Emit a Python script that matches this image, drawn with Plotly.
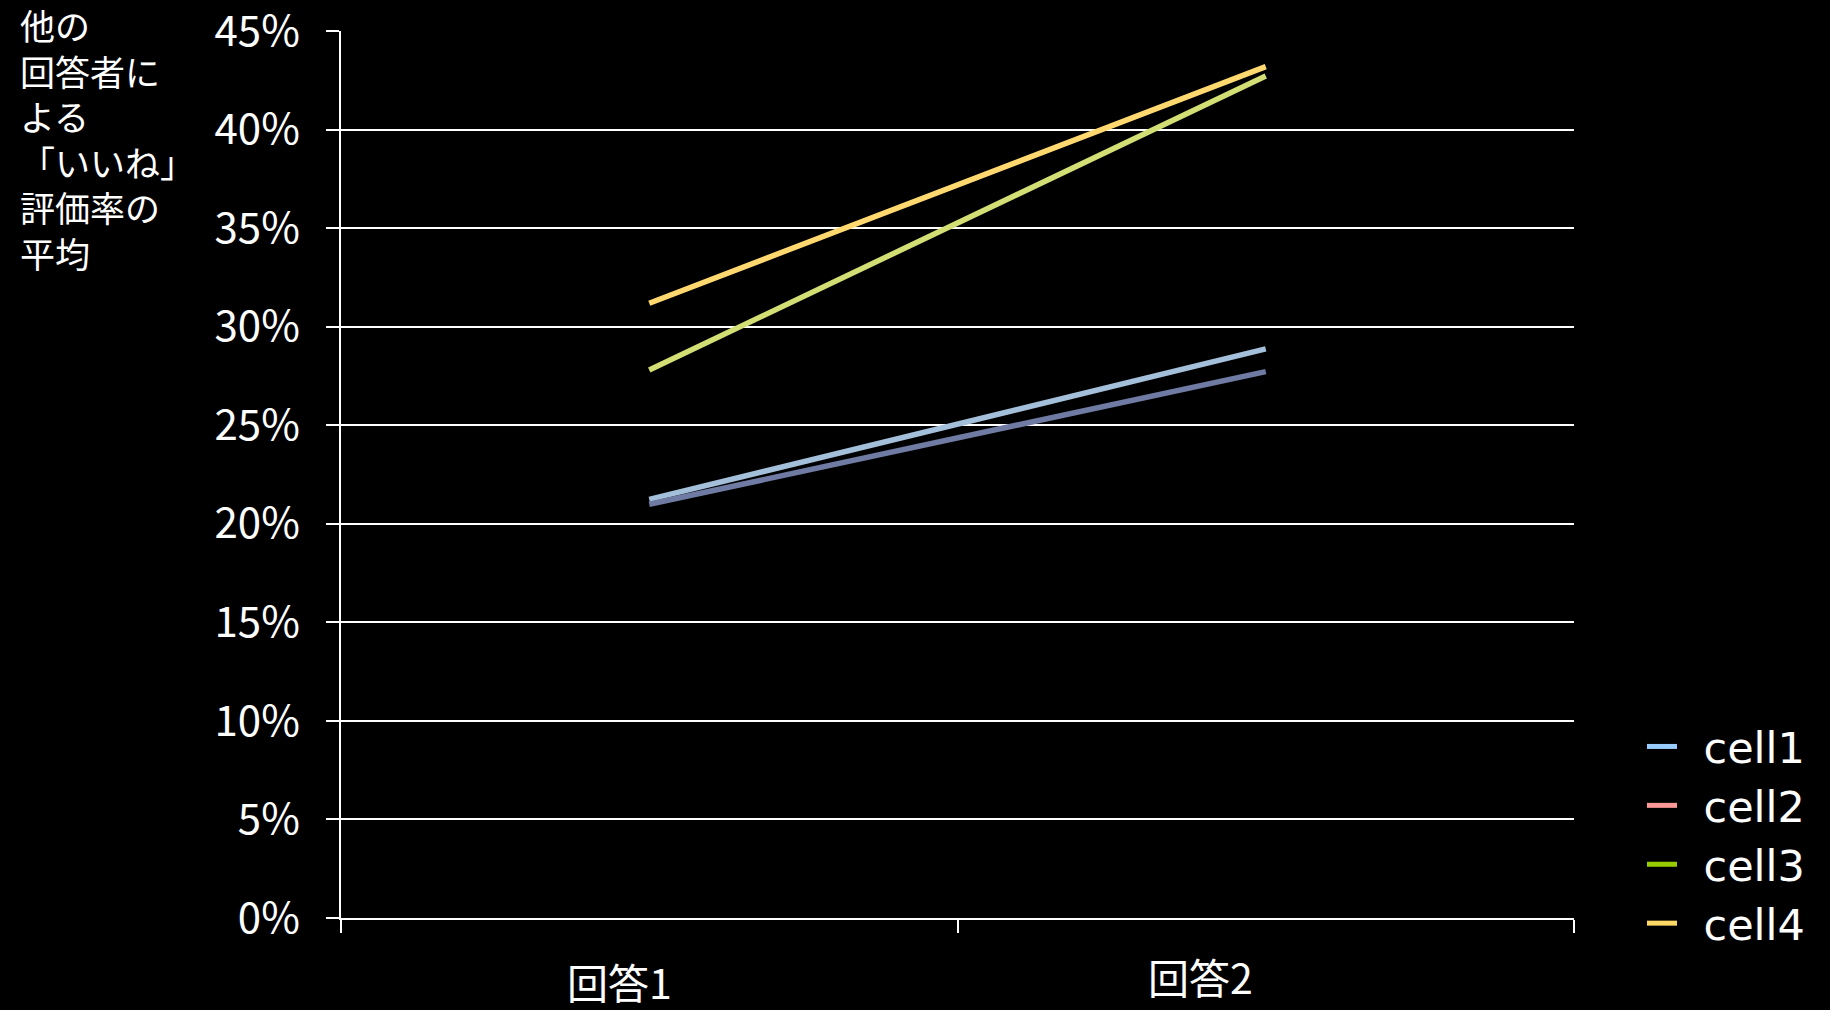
import plotly.graph_objects as go

categories = ["回答1", "回答2"]
series_names = ["cell1", "cell2", "cell3", "cell4"]
cell1 = [0.2124, 0.2887]
cell2 = [0.2099, 0.2772]
cell3 = [0.2780, 0.4272]
cell4 = [0.3119, 0.4319]
values = [cell1, cell2, cell3, cell4]
y_ticks = [0, 0.05, 0.10, 0.15, 0.20, 0.25, 0.30, 0.35, 0.40, 0.45]
y_title = "他の<br>回答者に<br>よる<br>「いいね」<br>評価率の<br>平均"

line_colors = ["#A3BFD9", "#6F7BA3", "#D3DE74", "#FFD970"]
legend_colors = ["#99CCFF", "#FF9999", "#99CC00", "#FFD966"]

W, H = 1830, 1010
L, R, T, B = 341, 256, 31, 92
pw, ph = W - L - R, H - T - B

fig = go.Figure()
for name, vals, col in zip(series_names, values, line_colors):
    fig.add_trace(go.Scatter(x=categories, y=vals, mode="lines", name=name,
                             line=dict(color=col, width=5.5), showlegend=False,
                             hoverinfo="skip"))
for name, col in zip(series_names, legend_colors):
    fig.add_trace(go.Scatter(x=[None], y=[None], mode="lines", name="\u2002" + name,
                             line=dict(color=col, width=5)))

def px_x(px):
    return (px - L) / pw

def px_y(py):
    return (H - B - py) / ph

annotations = [
    dict(text=y_title, xref="paper", yref="paper", x=px_x(18), y=px_y(-3),
         xanchor="left", yanchor="top", align="left", showarrow=False,
         font=dict(family="Noto Sans CJK JP", size=35, color="white")),
]
# category labels (placed slightly left of category centers as in reference)
label_pos = [(619, 981), (1200, 976)]
for cat, (lx, ly) in zip(categories, label_pos):
    annotations.append(dict(text=cat, xref="paper", yref="paper", x=px_x(lx), y=px_y(ly),
                            xanchor="center", yanchor="middle", showarrow=False,
                            font=dict(family="Noto Sans CJK JP", size=41, color="white")))

fig.update_layout(
    width=W, height=H,
    margin=dict(l=L, r=R, t=T, b=B, autoexpand=False),
    paper_bgcolor="black", plot_bgcolor="black",
    showlegend=True,
    legend=dict(x=px_x(1642), y=px_y(958), xanchor="left", yanchor="bottom",
                font=dict(family="DejaVu Sans", size=43, color="white"),
                bgcolor="rgba(0,0,0,0)", tracegroupgap=0),
    annotations=annotations,
)
fig.update_xaxes(type="category", range=[-0.5, 1.5], showticklabels=False,
                 ticks="outside", tickson="boundaries", ticklen=13, tickwidth=1.5,
                 tickcolor="white", showline=True, linecolor="white", linewidth=1.5,
                 showgrid=False, zeroline=False, fixedrange=True, automargin=False)
fig.update_yaxes(range=[0, 0.450001], tickvals=y_ticks, tickformat=".0%",
                 ticks="outside", ticklen=13, tickwidth=1.5, tickcolor="white",
                 ticklabelstandoff=18, ticklabeloverflow="allow",
                 tickfont=dict(family="Noto Sans CJK JP", size=42, color="white"),
                 showgrid=True, gridcolor="white", gridwidth=1.5,
                 showline=True, linecolor="white", linewidth=1.5,
                 zeroline=False, fixedrange=True, automargin=False)

fig.write_html("out.html")
